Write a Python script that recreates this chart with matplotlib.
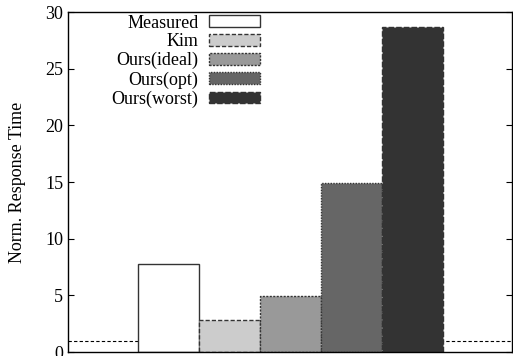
import matplotlib
matplotlib.use("Agg")
import matplotlib.pyplot as plt

labels = ["Measured", "Kim", "Ours(ideal)", "Ours(opt)", "Ours(worst)"]
values = [7.75, 2.8, 4.95, 14.9, 28.7]
baseline = 1.0

colors = ["#ffffff", "#cccccc", "#999999", "#666666", "#333333"]
styles = ["-", (0, (3, 1.5)), (0, (1.5, 1)), (0, (1, 1)), (0, (4, 1.5))]

plt.rcParams["font.family"] = ["Liberation Serif", "DejaVu Serif"]
plt.rcParams["font.size"] = 13

fig = plt.figure(figsize=(5.13, 3.56), dpi=100)
ax = fig.add_axes([0.1326, 0.011, 0.8654, 0.955])

for i, (lab, v) in enumerate(zip(labels, values)):
    ax.bar(i, v, width=1.0, color=colors[i], edgecolor="#333333",
           linewidth=1.0, linestyle=styles[i], label=lab)

ax.axhline(baseline, color="black", linestyle=(0, (3, 2)), linewidth=0.8, zorder=0)

ax.set_xlim(-1.65, 5.63)
ax.set_ylim(0, 30)
ax.set_yticks([0, 5, 10, 15, 20, 25, 30])
ax.set_xticks([])
ax.tick_params(axis="y", direction="in", right=True, length=4, labelsize=13)
ax.set_ylabel("Norm. Response Time", fontsize=13, labelpad=14)
for s in ax.spines.values():
    s.set_linewidth(1.0)

ax.legend(loc="upper left", bbox_to_anchor=(0.07, 1.03), markerfirst=False,
          frameon=False, fontsize=13, handlelength=2.8, handleheight=0.6,
          labelspacing=0.1, handletextpad=0.6, borderaxespad=0.3)

fig.savefig("out.png", dpi=100)
